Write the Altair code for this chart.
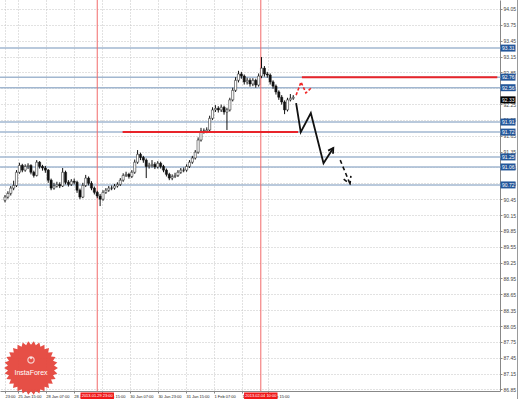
import math
import altair as alt
import pandas as pd

# ---------------- data ----------------
bar = list(range(101))
opens = [90.43, 90.49, 90.56, 90.66, 90.71, 90.96, 91.09, 91.00, 91.07, 91.09,
         90.96, 90.90, 91.15, 91.07, 91.04, 91.00, 90.81, 90.66, 90.70, 90.73,
         90.70, 90.96, 90.77, 90.73, 90.79, 90.77, 90.62, 90.49, 90.71, 90.85,
         90.75, 90.66, 90.58, 90.51, 90.45, 90.58, 90.62, 90.66, 90.66, 90.70,
         90.73, 90.81, 90.90, 90.92, 90.88, 90.96, 91.15, 91.30, 91.24, 91.19,
         91.07, 91.09, 91.11, 91.06, 91.13, 91.07, 91.00, 90.92, 90.85, 90.88,
         90.90, 90.96, 91.00, 91.00, 91.07, 91.15, 91.23, 91.34, 91.57, 91.74,
         91.74, 91.76, 91.98, 92.14, 92.17, 92.14, 92.19, 92.10, 92.14, 92.33,
         92.51, 92.70, 92.82, 92.78, 92.67, 92.70, 92.63, 92.70, 92.61, 92.78,
         92.93, 92.82, 92.80, 92.67, 92.59, 92.48, 92.38, 92.29, 92.14, 92.33,
         92.36]
closes = [90.49, 90.56, 90.66, 90.71, 90.96, 91.09, 91.00, 91.07, 91.09, 90.96,
          90.90, 91.15, 91.07, 91.04, 91.00, 90.81, 90.66, 90.70, 90.73, 90.70,
          90.96, 90.77, 90.73, 90.79, 90.77, 90.62, 90.49, 90.71, 90.85, 90.75,
          90.66, 90.58, 90.51, 90.45, 90.58, 90.62, 90.66, 90.66, 90.70, 90.73,
          90.81, 90.90, 90.92, 90.88, 90.96, 91.15, 91.30, 91.24, 91.19, 91.07,
          91.09, 91.11, 91.06, 91.13, 91.07, 91.00, 90.92, 90.85, 90.88, 90.90,
          90.96, 91.00, 91.00, 91.07, 91.15, 91.23, 91.34, 91.57, 91.74, 91.74,
          91.76, 91.98, 92.14, 92.17, 92.14, 92.19, 92.10, 92.14, 92.33, 92.51,
          92.70, 92.82, 92.78, 92.67, 92.70, 92.63, 92.70, 92.61, 92.78, 92.93,
          92.82, 92.80, 92.67, 92.59, 92.48, 92.38, 92.29, 92.14, 92.33, 92.36,
          92.38]
highs = [90.53, 90.60, 90.70, 90.80, 91.00, 91.14, 91.12, 91.11, 91.13, 91.11,
         90.99, 91.19, 91.17, 91.10, 91.08, 91.02, 90.84, 90.76, 90.78, 90.77,
         91.04, 90.99, 90.81, 90.83, 90.84, 90.80, 90.65, 90.76, 90.91, 90.88,
         90.79, 90.69, 90.61, 90.55, 90.62, 90.66, 90.70, 90.71, 90.74, 90.77,
         90.85, 90.94, 90.97, 90.95, 91.00, 91.20, 91.38, 91.33, 91.27, 91.22,
         91.14, 91.19, 91.15, 91.17, 91.16, 91.10, 91.03, 90.95, 90.92, 90.95,
         91.00, 91.04, 91.05, 91.11, 91.19, 91.27, 91.38, 91.62, 91.80, 91.79,
         91.81, 92.03, 92.19, 92.23, 92.21, 92.24, 92.22, 92.18, 92.37, 92.56,
         92.76, 92.88, 92.86, 92.81, 92.75, 92.74, 92.74, 92.73, 92.83, 93.14,
         92.97, 92.86, 92.83, 92.70, 92.62, 92.51, 92.42, 92.32, 92.37, 92.44,
         92.42]
lows = [90.39, 90.46, 90.52, 90.62, 90.68, 90.93, 90.96, 90.97, 91.02, 90.92,
        90.86, 90.88, 91.03, 90.99, 90.95, 90.76, 90.62, 90.63, 90.67, 90.66,
        90.68, 90.73, 90.69, 90.70, 90.73, 90.57, 90.45, 90.47, 90.68, 90.71,
        90.62, 90.54, 90.47, 90.32, 90.42, 90.55, 90.59, 90.62, 90.63, 90.67,
        90.70, 90.78, 90.87, 90.84, 90.85, 90.93, 91.12, 91.19, 91.14, 90.85,
        91.03, 91.05, 91.02, 91.03, 91.03, 90.96, 90.88, 90.81, 90.81, 90.85,
        90.87, 90.93, 90.96, 90.97, 91.04, 91.12, 91.20, 91.31, 91.54, 91.69,
        91.70, 91.73, 91.95, 92.10, 92.09, 92.10, 92.05, 91.76, 92.11, 92.30,
        92.48, 92.66, 92.73, 92.62, 92.62, 92.58, 92.59, 92.56, 92.58, 92.74,
        92.77, 92.75, 92.62, 92.54, 92.43, 92.33, 92.24, 92.06, 92.11, 92.30,
        92.33]

# price scale tick labels (right axis)
y_ticks = [86.85, 87.15, 87.45, 87.75, 88.05, 88.35, 88.65, 88.95, 89.25, 89.55,
           89.85, 90.15, 90.45, 90.75, 91.05, 91.35, 91.65, 91.95, 92.25, 92.55,
           92.85, 93.15, 93.45, 93.75, 94.05]

# time axis labels (positions in bar units)
x_label_pos = [0, 4.42, 14.14, 23.87, 33.59, 43.32, 53.04, 62.77, 72.49, 82.22, 91.1]
x_label_txt = ["23:00", "25 Jan 15:00", "28 Jan 07:00", "28 Jan 23:00", "29 Jan 15:00",
               "30 Jan 07:00", "30 Jan 23:00", "31 Jan 15:00", "1 Feb 07:00",
               "1 Feb 23:00", "4 Feb 15:00"]

# horizontal support / resistance levels
levels = [93.31, 92.76, 92.56, 91.91, 91.72, 91.25, 91.06, 90.72]
current_price = [92.33]

# red horizontal segments
red_y = [92.76, 91.72]
red_x1 = [103.0, 40.8]
red_x2 = [170.8, 101.7]

# red vertical lines and their date labels
vline_x = [32.0, 88.75]
vline_txt = ["2013.01.29 23:00", "2013.02.04 10:00"]

# forecast arrows
black_seg = ["a", "a", "a", "a", "a", "h1", "h1", "h1"]
black_x = [101.0, 102.6, 106.1, 110.5, 113.9, 112.1, 113.9, 113.8]
black_y = [92.27, 91.72, 92.08, 91.13, 91.42, 91.37, 91.42, 91.31]
dash_seg = ["b", "b", "h2", "h2", "h2"]
dash_x = [116.3, 119.7, 117.5, 119.7, 120.0]
dash_y = [91.19, 90.74, 90.83, 90.74, 90.89]
red_zz_x = [101.0, 102.7, 104.4, 106.1]
red_zz_y = [92.42, 92.67, 92.46, 92.55]

# ---------------- scales / axes ----------------
XS = alt.Scale(domain=[0, 170], nice=False, zero=False)
YS = alt.Scale(domain=[86.82, 94.22], nice=False, zero=False)

label_expr = "".join(f"datum.value == {p} ? '{t}' : " for p, t in zip(x_label_pos, x_label_txt)) + "''"
XA = alt.Axis(values=x_label_pos, labelExpr=label_expr, labelAlign="left", labelBaseline="top",
              labelFontSize=4, labelFont="Liberation Sans", labelColor="#222", labelPadding=1,
              labelFlush=False, labelOverlap=False, labelBound=False,
              tickSize=2, tickColor="#888", domainColor="#888", domainWidth=1,
              grid=True, gridColor="#c4c4c4", gridDash=[1, 2], gridWidth=1, title=None)
YA = alt.Axis(orient="right", values=y_ticks, format=".2f", labelAlign="left",
              labelFontSize=5, labelFont="Liberation Sans", labelColor="#444", labelPadding=1,
              labelFlush=False, labelOverlap=False, labelBound=False,
              tickSize=2, tickColor="#888", domainColor="#888", domainWidth=1,
              grid=True, gridColor="#c4c4c4", gridDash=[1, 2], gridWidth=1, title=None)

candles = pd.DataFrame({"i": bar, "o": opens, "c": closes, "h": highs, "l": lows})

wick = alt.Chart(candles).mark_rule(color="#111", strokeWidth=1).encode(
    x=alt.X("i:Q", scale=XS, axis=XA), y=alt.Y("l:Q", scale=YS, axis=YA), y2="h:Q")
body = alt.Chart(candles).mark_bar(size=2.2, stroke="#111", strokeWidth=0.5).encode(
    x=alt.X("i:Q", scale=XS, axis=XA), y=alt.Y("o:Q", scale=YS, axis=YA), y2="c:Q",
    color=alt.condition("datum.c >= datum.o", alt.value("#ffffff"), alt.value("#111111")))

lv = pd.DataFrame({"p": levels})
lv_rules = alt.Chart(lv).mark_rule(color="#a2b7d0", strokeWidth=1.5).encode(
    y=alt.Y("p:Q", scale=YS, axis=YA), x=alt.value(0), x2=alt.value(501))

vl = pd.DataFrame({"x": vline_x, "t": vline_txt})
v_rules = alt.Chart(vl).mark_rule(color="#f26a6a", strokeWidth=1).encode(
    x=alt.X("x:Q", scale=XS, axis=XA), y=alt.value(0), y2=alt.value(391))

rh = pd.DataFrame({"y": red_y, "x1": red_x1, "x2": red_x2})
red_rules = alt.Chart(rh).mark_rule(color="#e8242a", strokeWidth=2).encode(
    y=alt.Y("y:Q", scale=YS, axis=YA), x=alt.X("x1:Q", scale=XS, axis=XA), x2="x2:Q")

bdf = pd.DataFrame({"s": black_seg, "x": black_x, "y": black_y, "o": range(len(black_x))})
black_line = alt.Chart(bdf).mark_line(color="#111", strokeWidth=1.8).encode(
    x=alt.X("x:Q", scale=XS, axis=XA), y=alt.Y("y:Q", scale=YS, axis=YA), detail="s:N", order="o:Q")
ddf = pd.DataFrame({"s": dash_seg, "x": dash_x, "y": dash_y, "o": range(len(dash_x))})
dash_line = alt.Chart(ddf).mark_line(color="#111", strokeWidth=1.6, strokeDash=[4, 3]).encode(
    x=alt.X("x:Q", scale=XS, axis=XA), y=alt.Y("y:Q", scale=YS, axis=YA), detail="s:N", order="o:Q")
rdf = pd.DataFrame({"x": red_zz_x, "y": red_zz_y, "o": range(len(red_zz_x))})
red_zz = alt.Chart(rdf).mark_line(color="#f02828", strokeWidth=1.6, strokeDash=[3, 2]).encode(
    x=alt.X("x:Q", scale=XS, axis=XA), y=alt.Y("y:Q", scale=YS, axis=YA), order="o:Q")

# right-hand price tags
tag_box = alt.Chart(lv).transform_calculate(lo="datum.p - 0.066", hi="datum.p + 0.066").mark_rect(
    color="#24579a").encode(y=alt.Y("lo:Q", scale=YS, axis=YA), y2="hi:Q",
                            x=alt.value(500.5), x2=alt.value(515.5))
tag_txt = alt.Chart(lv).mark_text(color="white", fontSize=5, font="Liberation Sans", align="left",
                                  baseline="middle").encode(
    y=alt.Y("p:Q", scale=YS, axis=YA), x=alt.value(502), text=alt.Text("p:Q", format=".2f"))
cp = pd.DataFrame({"p": current_price})
cp_box = alt.Chart(cp).transform_calculate(lo="datum.p - 0.066", hi="datum.p + 0.066").mark_rect(
    color="#000000").encode(y=alt.Y("lo:Q", scale=YS, axis=YA), y2="hi:Q",
                            x=alt.value(500.5), x2=alt.value(515.5))
cp_txt = alt.Chart(cp).mark_text(color="white", fontSize=5, font="Liberation Sans", align="left",
                                 baseline="middle").encode(
    y=alt.Y("p:Q", scale=YS, axis=YA), x=alt.value(502), text=alt.Text("p:Q", format=".2f"))

# red date tags on the time axis
date_box = alt.Chart(vl).transform_calculate(a="datum.x - 5.8", b="datum.x + 5.8").mark_rect(
    color="#f01818").encode(x=alt.X("a:Q", scale=XS, axis=XA), x2="b:Q",
                            y=alt.value(392.5), y2=alt.value(399))
date_txt = alt.Chart(vl).mark_text(color="white", fontSize=4, font="Liberation Sans",
                                   align="center", baseline="middle").encode(
    x=alt.X("x:Q", scale=XS, axis=XA), y=alt.value(396), text="t:N")

# window frame on the right
frame = alt.Chart(pd.DataFrame({"k": [0]})).mark_rule(color="#9a9a9a", strokeWidth=1).encode(
    x=alt.value(517.5), y=alt.value(0), y2=alt.value(399))

# logo
n = 30
pts = []
for k in range(2 * n):
    r = 1.0 if k % 2 == 0 else 0.86
    a = math.pi * k / n
    pts.append(f"{r * math.cos(a):.3f},{r * math.sin(a):.3f}")
star_path = "M" + " L".join(pts) + " Z"
logo_df = pd.DataFrame({"t": ["InstaForex"]})
logo_star = alt.Chart(logo_df).mark_point(shape=star_path, filled=True, color="#e5463c",
                                          opacity=0.95, size=2900).encode(
    x=alt.value(31), y=alt.value(368))
logo_ring = alt.Chart(logo_df).mark_point(shape="circle", filled=False, color="white",
                                          strokeWidth=1.2, size=40).encode(
    x=alt.value(31), y=alt.value(360))
logo_dot = alt.Chart(logo_df).mark_point(shape="circle", filled=True, color="white",
                                         size=6).encode(x=alt.value(31), y=alt.value(358))
logo_txt = alt.Chart(logo_df).mark_text(color="white", fontSize=7, font="Liberation Sans",
                                        align="center", baseline="middle").encode(
    x=alt.value(31), y=alt.value(373), text="t:N")

chart = alt.layer(
    lv_rules, v_rules, wick, body, red_rules, black_line, dash_line, red_zz,
    tag_box, tag_txt, cp_box, cp_txt, date_box, date_txt, frame,
    logo_star, logo_ring, logo_dot, logo_txt
).properties(
    width=500, height=391,
    padding={"left": 0, "top": 0, "right": 19, "bottom": 8},
    autosize=alt.AutoSizeParams(type="none"),
    background="white",
).configure_view(stroke=None)

chart.save("out.html", embed_options={"renderer": "svg", "actions": False})
